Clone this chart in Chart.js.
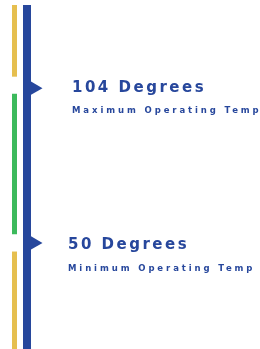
<!DOCTYPE html>
<html>
<head>
<meta charset="utf-8">
<script src="https://cdn.jsdelivr.net/npm/chart.js@4"></script>
<style>
  html, body { margin: 0; padding: 0; background: #fff; }
  #wrap { width: 260px; height: 349px; }
</style>
</head>
<body>
<div id="wrap"><canvas id="thermo"></canvas></div>
<script>
// temperature scale (degrees)
const scaleMin = 13;
const scaleMax = 133;

// range bands next to the gauge: [from, to]
const upperBand = [108, 133];
const safeBand = [53, 102];
const lowerBand = [13, 47];

// marker values and texts
const markerValues = [104, 50];
const markerTitles = ["104 Degrees", "50 Degrees"];
const markerNotes = ["Maximum Operating Temp", "Minimum Operating Temp"];

const blue = "#27479c";
const yellow = "#e6bf4f";
const green = "#3cba5c";

function band(x, range) {
    return [{ x: x, y: range[0] }, { x: x, y: range[1] }];
}

const labelPlugin = {
    id: "markerLabels",
    afterDatasetsDraw(chart) {
        const ctx = chart.ctx;
        const y = chart.scales.y;
        const xs = [72, 68];
        const titleDy = [0, 2];
        const noteDy = [23, 26];
        ctx.save();
        ctx.fillStyle = blue;
        ctx.textBaseline = "middle";
        markerValues.forEach((v, i) => {
            const py = y.getPixelForValue(v);
            ctx.font = "bold 15px 'DejaVu Sans'";
            ctx.letterSpacing = "2.5px";
            ctx.fillText(markerTitles[i], xs[i], py + titleDy[i]);
            ctx.font = "bold 8.5px 'DejaVu Sans'";
            ctx.letterSpacing = "2.9px";
            ctx.fillText(markerNotes[i], xs[i], py + noteDy[i]);
        });
        ctx.restore();
    },
};

const ctx = document.getElementById("thermo");
new Chart(ctx, {
    type: "line",
    data: {
        datasets: [
            { data: band(14.5, upperBand), borderColor: yellow, borderWidth: 5, pointRadius: 0 },
            { data: band(14.5, safeBand), borderColor: green, borderWidth: 5, pointRadius: 0 },
            { data: band(14.5, lowerBand), borderColor: yellow, borderWidth: 5, pointRadius: 0 },
            { data: band(27, [scaleMin, scaleMax]), borderColor: blue, borderWidth: 8, pointRadius: 0 },
            {
                data: markerValues.map((v) => ({ x: 34, y: v })),
                showLine: false,
                pointStyle: "triangle",
                rotation: 90,
                pointRadius: 8.5,
                pointBackgroundColor: blue,
                pointBorderWidth: 0,
            },
        ],
    },
    options: {
        responsive: true,
        maintainAspectRatio: false,
        animation: false,
        layout: { autoPadding: false, padding: { top: 5, bottom: 0, left: 0, right: 0 } },
        plugins: { legend: { display: false }, tooltip: { enabled: false } },
        scales: {
            x: { type: "linear", min: 0, max: 260, display: false },
            y: { type: "linear", min: scaleMin, max: scaleMax, display: false },
        },
    },
    plugins: [labelPlugin],
});
</script>
</body>
</html>
